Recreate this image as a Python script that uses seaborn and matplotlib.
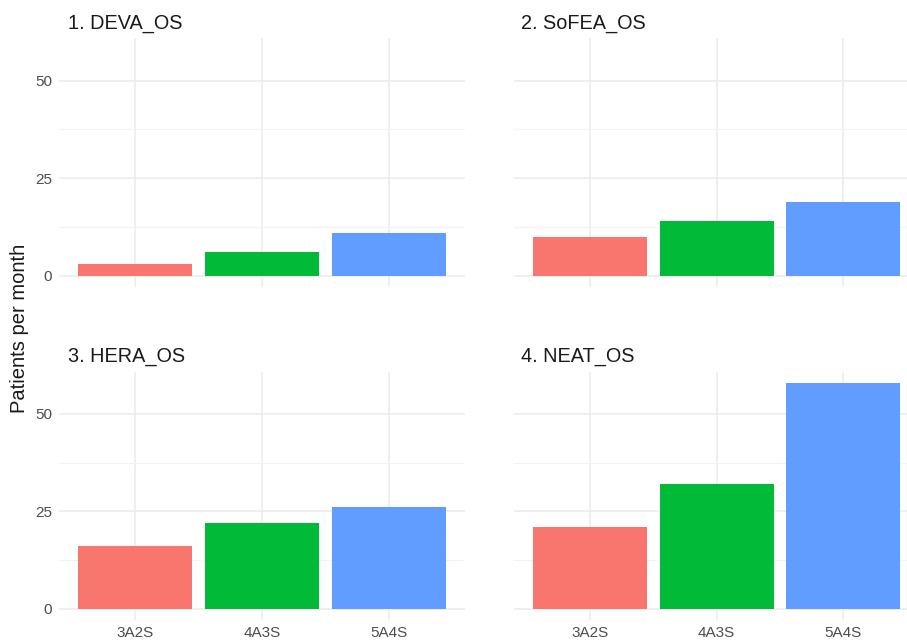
import pandas as pd
import seaborn as sns
import matplotlib.pyplot as plt
from matplotlib.ticker import FixedLocator

# values
trials = ["1. DEVA_OS", "2. SoFEA_OS", "3. HERA_OS", "4. NEAT_OS"]
configs = ["3A2S", "4A3S", "5A4S"]
deva = [3, 6, 11]
sofea = [10, 14, 19]
hera = [16, 22, 26]
neat = [21, 32, 58]
colors = ["#F8766D", "#00BA38", "#619CFF"]

rows = []
for trial, vals in zip(trials, [deva, sofea, hera, neat]):
    for c, v in zip(configs, vals):
        rows.append({"trial": trial, "config": c, "patients": v})
df = pd.DataFrame(rows)

sns.set_theme(style="white")
plt.rcParams["font.family"] = ["Liberation Sans", "DejaVu Sans"]

W, H = 907, 642
fig = plt.figure(figsize=(W / 100, H / 100), dpi=100)


def px_box(x0, x1, ytop, ybot):
    return [x0 / W, 1 - ybot / H, (x1 - x0) / W, (ybot - ytop) / H]


# panel geometry in pixels
boxes = [
    px_box(59, 465, 38, 287),
    px_box(514, 907, 38, 287),
    px_box(59, 465, 371.5, 620),
    px_box(514, 907, 371.5, 620),
]
title_pos = [(68, 29), (521, 29), (68, 362), (521, 362)]

for i, trial in enumerate(trials):
    ax = fig.add_axes(boxes[i])
    sub = df[df["trial"] == trial]
    sns.barplot(data=sub, x="config", y="patients", hue="config", order=configs,
                hue_order=configs, palette=colors, width=0.9, legend=False,
                ax=ax, errorbar=None, saturation=1, edgecolor="none", zorder=3)
    ax.set_ylim(-2.9, 60.9)
    ax.set_xlim(-0.6, 2.6 if i % 2 == 0 else 2.504)
    ax.yaxis.set_major_locator(FixedLocator([0, 25, 50]))
    ax.yaxis.set_minor_locator(FixedLocator([12.5, 37.5]))
    ax.grid(True, which="major", color="#EBEBEB", lw=1.1, zorder=0)
    ax.grid(True, which="minor", axis="y", color="#F2F2F2", lw=0.8, zorder=0)
    ax.set_axisbelow(True)
    for s in ax.spines.values():
        s.set_visible(False)
    ax.set_xlabel("")
    ax.set_ylabel("")
    ax.tick_params(axis="both", which="both", length=0, labelsize=11, colors="#4D4D4D")
    ax.tick_params(axis="y", pad=5)
    ax.tick_params(axis="x", pad=4)
    if i % 2 == 1:
        ax.tick_params(axis="y", labelleft=False)
    if i < 2:
        ax.tick_params(axis="x", labelbottom=False)
    tx, ty = title_pos[i]
    fig.text(tx / W, 1 - ty / H, trial, fontsize=14.3, color="#1A1A1A", va="baseline", ha="left")

fig.text(20 / W, 1 - 328 / H, "Patients per month", rotation=90, fontsize=14.5,
         color="#1A1A1A", ha="center", va="center")

fig.savefig("out.png", dpi=100)
